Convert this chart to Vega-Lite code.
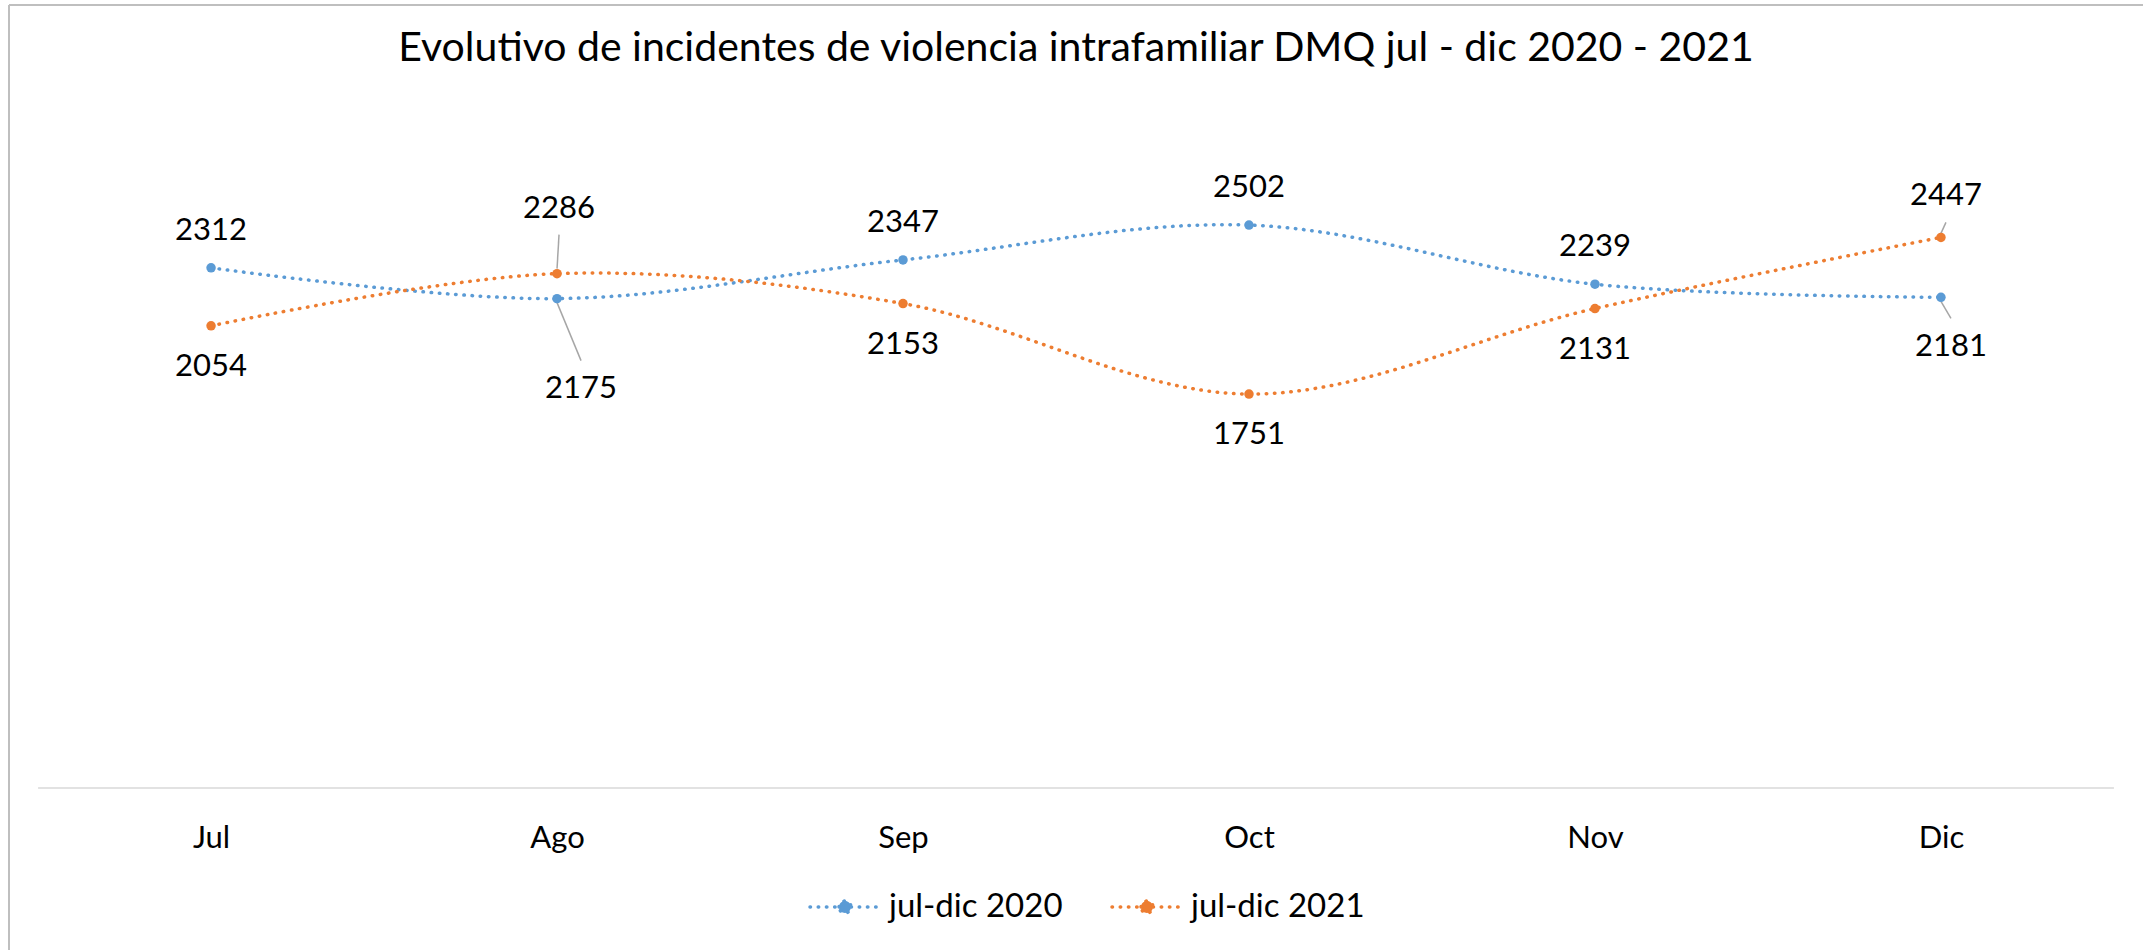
{
  "$schema": "https://vega.github.io/schema/vega-lite/v6.json",
  "width": 2134,
  "height": 945,
  "autosize": {"type": "none"},
  "padding": {"left": 9, "top": 5, "right": 0, "bottom": 0},
  "background": "white",
  "config": {"view": {"stroke": null}},
  "title": {
    "text": "Evolutivo de incidentes de violencia intrafamiliar DMQ jul - dic 2020 - 2021",
    "font": "Lato",
    "fontSize": 41,
    "fontWeight": "normal",
    "color": "black",
    "anchor": "middle",
    "frame": "group",
    "baseline": "alphabetic",
    "offset": -64,
    "dy": 34
  },
  "data": {
    "values": [
      {"mes": "Jul", "serie": "jul-dic 2020", "valor": 2312},
      {"mes": "Ago", "serie": "jul-dic 2020", "valor": 2175},
      {"mes": "Sep", "serie": "jul-dic 2020", "valor": 2347},
      {"mes": "Oct", "serie": "jul-dic 2020", "valor": 2502},
      {"mes": "Nov", "serie": "jul-dic 2020", "valor": 2239},
      {"mes": "Dic", "serie": "jul-dic 2020", "valor": 2181},
      {"mes": "Jul", "serie": "jul-dic 2021", "valor": 2054},
      {"mes": "Ago", "serie": "jul-dic 2021", "valor": 2286},
      {"mes": "Sep", "serie": "jul-dic 2021", "valor": 2153},
      {"mes": "Oct", "serie": "jul-dic 2021", "valor": 1751},
      {"mes": "Nov", "serie": "jul-dic 2021", "valor": 2131},
      {"mes": "Dic", "serie": "jul-dic 2021", "valor": 2447}
    ]
  },
  "resolve": {"scale": {"x": "independent"}},
  "layer": [
    {
      "data": {"values": [{"marco": 1}]},
      "layer": [
        {
          "mark": {"type": "rule", "color": "#BFBFBF", "strokeWidth": 2},
          "encoding": {
            "x": {"datum": -0.584, "type": "quantitative", "scale": {"domain": [-0.584, 5.584], "nice": false, "zero": false}, "axis": null}
          }
        },
        {
          "mark": {"type": "rule", "color": "#BFBFBF", "strokeWidth": 2},
          "encoding": {
            "y": {"datum": 3480, "type": "quantitative", "scale": {"domain": [-720, 3480], "nice": false, "zero": false}, "axis": null}
          }
        },
        {
          "mark": {"type": "rule", "color": "#D9D9D9", "strokeWidth": 1.5},
          "encoding": {
            "x": {"datum": -0.5, "type": "quantitative", "axis": null},
            "x2": {"datum": 5.5},
            "y": {"datum": 0, "type": "quantitative", "axis": null}
          }
        }
      ]
    },
    {
      "encoding": {
        "x": {
          "field": "mes",
          "type": "nominal",
          "sort": ["Jul", "Ago", "Sep", "Oct", "Nov", "Dic"],
          "scale": {"type": "point", "padding": 0.584},
          "axis": {
            "title": null,
            "domain": false,
            "ticks": false,
            "tickSize": 0,
            "grid": false,
            "labelAngle": 0,
            "labelFont": "Lato",
            "labelFontSize": 31,
            "labelColor": "black",
            "labelPadding": 35,
            "offset": -162
          }
        },
        "y": {
          "field": "valor",
          "type": "quantitative",
          "scale": {"domain": [-720, 3480], "nice": false, "zero": false},
          "axis": null
        },
        "color": {
          "field": "serie",
          "type": "nominal",
          "scale": {"domain": ["jul-dic 2020", "jul-dic 2021"], "range": ["#5B9BD5", "#ED7D31"]},
          "legend": {
            "orient": "none",
            "legendX": 799,
            "legendY": 865,
            "direction": "horizontal",
            "title": null,
            "padding": 0,
            "symbolType": "M-1,0L1,0M-0.17,0A0.17,0.17,0,1,1,0.17,0A0.17,0.17,0,1,1,-0.17,0Z",
            "symbolSize": 4900,
            "symbolStrokeWidth": 3.5,
            "symbolDash": [0.5, 7.7],
            "labelFont": "Lato",
            "labelFontSize": 33,
            "labelColor": "black",
            "labelLimit": 500,
            "labelOffset": 7,
            "columnPadding": 42,
            "encode": {
              "symbols": {
                "update": {
                  "fill": {"scale": "color", "field": "value"},
                  "stroke": {"scale": "color", "field": "value"},
                  "strokeCap": {"value": "round"},
                  "opacity": {"value": 1}
                }
              }
            }
          }
        }
      },
      "layer": [
        {
          "mark": {"type": "line", "interpolate": "cardinal", "strokeWidth": 3.5, "strokeDash": [0.5, 7.7], "strokeCap": "round"}
        },
        {
          "transform": [{"filter": "datum.serie == 'jul-dic 2021' && datum.mes == 'Ago'"}],
          "mark": {"type": "rule", "color": "#A6A6A6", "strokeWidth": 1.5, "yOffset": -5, "y2Offset": -39, "x2Offset": 2},
          "encoding": {"x2": {"field": "mes"}, "y2": {"field": "valor"}, "color": {"value": "#A6A6A6"}}
        },
        {
          "transform": [{"filter": "datum.serie == 'jul-dic 2020' && datum.mes == 'Ago'"}],
          "mark": {"type": "rule", "color": "#A6A6A6", "strokeWidth": 1.5, "yOffset": 4, "y2Offset": 62, "x2Offset": 24},
          "encoding": {"x2": {"field": "mes"}, "y2": {"field": "valor"}, "color": {"value": "#A6A6A6"}}
        },
        {
          "transform": [{"filter": "datum.serie == 'jul-dic 2021' && datum.mes == 'Dic'"}],
          "mark": {"type": "rule", "color": "#A6A6A6", "strokeWidth": 1.5, "yOffset": -4, "y2Offset": -15, "x2Offset": 5},
          "encoding": {"x2": {"field": "mes"}, "y2": {"field": "valor"}, "color": {"value": "#A6A6A6"}}
        },
        {
          "transform": [{"filter": "datum.serie == 'jul-dic 2020' && datum.mes == 'Dic'"}],
          "mark": {"type": "rule", "color": "#A6A6A6", "strokeWidth": 1.5, "yOffset": 4, "y2Offset": 21, "x2Offset": 10},
          "encoding": {"x2": {"field": "mes"}, "y2": {"field": "valor"}, "color": {"value": "#A6A6A6"}}
        },
        {
          "mark": {"type": "point", "filled": true, "size": 90, "opacity": 1}
        },
        {
          "transform": [{"filter": "datum.serie == 'jul-dic 2020' && datum.mes != 'Ago' && datum.mes != 'Dic'"}],
          "mark": {"type": "text", "font": "Lato", "fontSize": 31, "baseline": "middle", "dy": -37},
          "encoding": {"text": {"field": "valor", "type": "quantitative", "format": "d"}, "color": {"value": "black"}}
        },
        {
          "transform": [{"filter": "datum.serie == 'jul-dic 2021' && datum.mes != 'Ago' && datum.mes != 'Dic'"}],
          "mark": {"type": "text", "font": "Lato", "fontSize": 31, "baseline": "middle", "dy": 41},
          "encoding": {"text": {"field": "valor", "type": "quantitative", "format": "d"}, "color": {"value": "black"}}
        },
        {
          "transform": [{"filter": "datum.serie == 'jul-dic 2021' && datum.mes == 'Ago'"}],
          "mark": {"type": "text", "font": "Lato", "fontSize": 31, "baseline": "middle", "dy": -65, "dx": 2},
          "encoding": {"text": {"field": "valor", "type": "quantitative", "format": "d"}, "color": {"value": "black"}}
        },
        {
          "transform": [{"filter": "datum.serie == 'jul-dic 2020' && datum.mes == 'Ago'"}],
          "mark": {"type": "text", "font": "Lato", "fontSize": 31, "baseline": "middle", "dy": 90, "dx": 24},
          "encoding": {"text": {"field": "valor", "type": "quantitative", "format": "d"}, "color": {"value": "black"}}
        },
        {
          "transform": [{"filter": "datum.serie == 'jul-dic 2021' && datum.mes == 'Dic'"}],
          "mark": {"type": "text", "font": "Lato", "fontSize": 31, "baseline": "middle", "dy": -41, "dx": 5},
          "encoding": {"text": {"field": "valor", "type": "quantitative", "format": "d"}, "color": {"value": "black"}}
        },
        {
          "transform": [{"filter": "datum.serie == 'jul-dic 2020' && datum.mes == 'Dic'"}],
          "mark": {"type": "text", "font": "Lato", "fontSize": 31, "baseline": "middle", "dy": 50, "dx": 10},
          "encoding": {"text": {"field": "valor", "type": "quantitative", "format": "d"}, "color": {"value": "black"}}
        }
      ]
    }
  ]
}
